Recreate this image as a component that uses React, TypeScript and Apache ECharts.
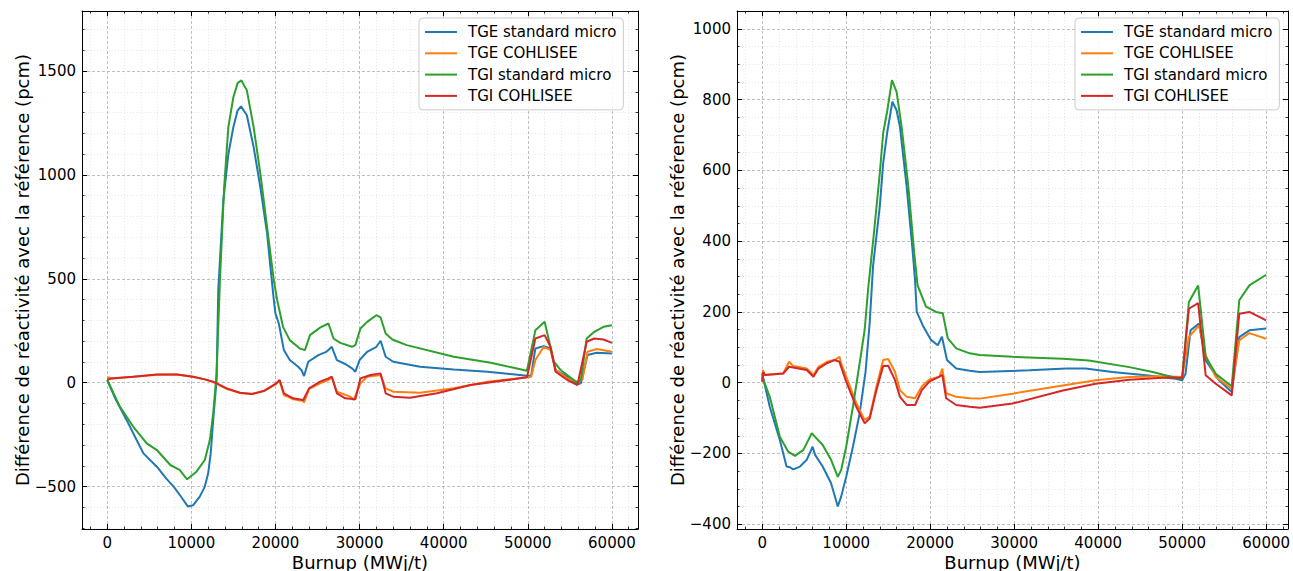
import React, { useEffect, useRef } from 'react';
import * as echarts from 'echarts';

const SERIES_NAMES = ['TGE standard micro', 'TGE COHLISEE', 'TGI standard micro', 'TGI COHLISEE'];
const COLORS = ['#1f77b4', '#ff7f0e', '#2ca02c', '#d62728'];
const X_TITLE = 'Burnup (MWj/t)';
const Y_TITLE = 'Différence de réactivité avec la référence (pcm)';

const X_MAJOR = [0, 10000, 20000, 30000, 40000, 50000, 60000];
const LEFT_Y_MAJOR = [-500, 0, 500, 1000, 1500];
const RIGHT_Y_MAJOR = [-400, -200, 0, 200, 400, 600, 800, 1000];

// Left panel
const L_TGE_STD = [[0,13],[1000,-80],[2300,-179],[3300,-260],[4300,-340],[5900,-404],[7000,-460],[7900,-500],[8800,-550],[9600,-596],[10200,-590],[11000,-548],[11600,-500],[12000,-436],[12300,-340],[12600,-179],[13000,13],[13200,446],[13800,878],[14400,1100],[15000,1231],[15500,1310],[15900,1330],[16600,1287],[17400,1135],[18200,942],[19000,720],[19400,558],[19800,400],[20000,333],[20400,285],[21000,157],[21700,109],[22700,77],[23100,60],[23400,32],[23900,101],[25100,133],[26100,150],[26700,173],[27300,109],[28300,90],[29100,69],[29500,53],[30000,109],[30900,149],[32000,173],[32500,202],[33100,125],[34000,101],[37200,77],[41200,64],[45200,53],[49900,34],[50400,35],[50900,165],[51900,176],[52700,165],[53300,61],[54700,29],[55900,-8],[56300,-3],[57100,133],[58200,144],[60000,141]];
const L_TGE_COH = [[0,26],[700,20],[3100,29],[5900,38],[8300,40],[10200,29],[11600,16],[12600,3],[14200,-30],[15800,-50],[17200,-54],[18600,-40],[20000,-8],[20500,10],[21000,-60],[21400,-66],[22100,-80],[23300,-88],[23400,-95],[24000,-30],[25300,-3],[26300,13],[26700,26],[27300,-43],[28900,-67],[29300,-83],[30100,-3],[30900,29],[32500,37],[33100,-27],[34000,-43],[37200,-48],[41200,-27],[45200,5],[49900,26],[50400,29],[50900,109],[51900,173],[52700,157],[53300,61],[54700,21],[55900,5],[56500,16],[57100,149],[58200,162],[60000,149]];
const L_TGI_STD = [[0,13],[1500,-115],[3100,-212],[4700,-292],[5900,-324],[7500,-396],[8600,-420],[9500,-465],[10600,-428],[11600,-372],[12200,-276],[12600,-147],[13000,45],[13400,494],[13900,942],[14400,1231],[15000,1375],[15500,1442],[15950,1455],[16600,1407],[17400,1231],[18200,1007],[19000,750],[19800,494],[20200,398],[20900,269],[21700,205],[22900,165],[23500,157],[24100,229],[25300,265],[26300,285],[26900,213],[27700,192],[29100,173],[29500,181],[30100,261],[30900,293],[32000,325],[32500,314],[33100,237],[33900,208],[35600,181],[41200,125],[45600,96],[49900,58],[50900,253],[52000,293],[53100,101],[53900,61],[55900,0],[56300,13],[57000,213],[57900,245],[59000,269],[60000,277]];
const L_TGI_COH = [[0,16],[700,21],[3100,29],[5900,40],[8300,40],[10200,29],[11600,16],[12600,5],[14200,-27],[15800,-48],[17200,-54],[18600,-40],[20000,-6],[20500,13],[21000,-51],[22100,-75],[23300,-83],[24000,-27],[25300,5],[26300,21],[26700,29],[27300,-51],[28300,-75],[29500,-80],[30100,21],[31300,37],[32500,45],[33100,-51],[34000,-67],[36000,-72],[39200,-51],[43200,-11],[49900,26],[50900,213],[52000,229],[52700,173],[53300,53],[54700,13],[55900,-11],[57000,197],[57900,213],[59000,208],[60000,192]];

// Right panel
const R_TGE_STD = [[0,26],[900,-68],[2100,-162],[2900,-237],[3300,-239],[3700,-245],[4500,-237],[5300,-218],[6000,-181],[6300,-204],[7200,-237],[8200,-284],[9000,-350],[9400,-322],[10000,-266],[10800,-181],[11600,-87],[12300,30],[12800,170],[13200,330],[14000,498],[14400,620],[14900,710],[15500,794],[16000,770],[16400,723],[17200,554],[17900,375],[18200,290],[18400,200],[19200,158],[20100,121],[20900,106],[21400,130],[22000,64],[23100,40],[24700,34],[25900,30],[31800,35],[36200,40],[38500,40],[41700,30],[45700,21],[49200,11],[50000,7],[50400,25],[51000,148],[52000,167],[52800,63],[54400,7],[55900,-26],[56800,129],[58000,148],[60000,153]];
const R_TGE_COH = [[0,3],[100,36],[300,22],[2500,26],[3200,59],[3700,47],[5300,40],[6100,22],[6700,45],[7700,59],[8600,64],[9200,73],[9400,55],[10000,17],[11200,-58],[12200,-105],[12800,-96],[13600,-11],[14400,64],[15000,67],[15800,31],[16400,-21],[17200,-40],[18200,-44],[19000,-11],[19900,9],[21100,17],[21450,40],[21900,-30],[23100,-40],[24700,-44],[25900,-45],[29800,-31],[35800,-8],[39700,7],[43700,16],[47700,18],[50000,16],[50800,129],[52000,162],[52800,77],[54000,16],[55900,-17],[56800,120],[58000,140],[60000,124]];
const R_TGI_STD = [[0,17],[900,-40],[2100,-153],[3100,-195],[3900,-207],[4900,-190],[5900,-143],[6300,-153],[7200,-176],[8200,-218],[9000,-266],[9400,-247],[10000,-181],[10800,-68],[11600,55],[12200,149],[12600,262],[13300,422],[14000,592],[14400,705],[14900,770],[15450,855],[16000,822],[16600,723],[17400,554],[18100,366],[18500,275],[19500,215],[20700,200],[21500,196],[22100,125],[23100,97],[24700,83],[25900,78],[29800,73],[35800,68],[38900,63],[43700,44],[46500,30],[48800,16],[50000,11],[50800,228],[51900,275],[52800,73],[54000,25],[55900,-10],[56800,233],[58000,275],[60000,305]];
const R_TGI_COH = [[0,3],[100,30],[300,22],[2500,26],[3200,45],[5300,36],[6100,17],[6700,40],[7700,55],[8600,64],[9200,59],[10000,3],[11200,-68],[12200,-115],[12800,-101],[13600,-21],[14400,47],[15000,48],[15800,8],[16400,-40],[17200,-63],[18200,-63],[19000,-21],[19900,3],[21100,17],[21450,22],[21900,-44],[23100,-63],[24700,-68],[25900,-71],[29800,-59],[35800,-22],[39700,-3],[43700,8],[47700,14],[50000,14],[50800,209],[51900,225],[52800,21],[54000,-3],[55900,-36],[56800,195],[58000,200],[60000,176]];

const LEFT_DATA = [L_TGE_STD, L_TGE_COH, L_TGI_STD, L_TGI_COH];
const RIGHT_DATA = [R_TGE_STD, R_TGE_COH, R_TGI_STD, R_TGI_COH];

const FONT = 'DejaVu Sans';

function minorValues(from: number, to: number, step: number, major: number) {
  const out: number[] = [];
  for (let v = from; v <= to + 1e-9; v += step) {
    if (Math.abs(v % major) > 1e-6) out.push(v);
  }
  return out;
}

const fmt = (v: number) => (v < 0 ? '\u2212' + Math.abs(v) : String(v));

function panelAxes(gridIndex: number, xr: number[], yr: number[], xMajor: number[], xMinor: number[], yMajor: number[], yMinor: number[]) {
  const frame = { show: true, onZero: false, lineStyle: { color: '#000', width: 1 } };
  const hidden = { show: false, onZero: false };
  const majorTick = (vals: number[]) => ({ show: true, inside: true, length: 5, customValues: vals, lineStyle: { color: '#000', width: 1 } });
  const minorTickS = (vals: number[]) => ({ show: true, inside: true, length: 2.5, customValues: vals, lineStyle: { color: '#000', width: 0.8 } });
  const majorGrid = { show: true, lineStyle: { type: [3, 2], color: '#b0b0b0', width: 0.8 } };
  const minorGrid = { show: true, lineStyle: { type: [1, 2], color: '#d8d8d8', width: 0.6 } };
  const noLabel = { show: false };
  const base = (min: number, max: number) => ({ type: 'value', gridIndex, min, max, minorTick: { show: false }, minorSplitLine: { show: false } });

  const xAxes = [
    {
      ...base(xr[0], xr[1]), position: 'bottom', axisLine: frame, axisTick: majorTick(xMajor),
      axisLabel: { show: true, customValues: xMajor, formatter: fmt, margin: 6, fontSize: 15, color: '#000', fontFamily: FONT },
      splitLine: majorGrid,
      name: X_TITLE, nameLocation: 'middle', nameGap: 24, nameMoveOverlap: false,
      nameTextStyle: { fontSize: 18, color: '#000', fontFamily: FONT },
    },
    { ...base(xr[0], xr[1]), position: 'bottom', axisLine: hidden, axisTick: minorTickS(xMinor), axisLabel: noLabel, splitLine: minorGrid },
    { ...base(xr[0], xr[1]), position: 'top', axisLine: frame, axisTick: majorTick(xMajor), axisLabel: noLabel, splitLine: { show: false } },
    { ...base(xr[0], xr[1]), position: 'top', axisLine: hidden, axisTick: minorTickS(xMinor), axisLabel: noLabel, splitLine: { show: false } },
  ];
  const yAxes = [
    {
      ...base(yr[0], yr[1]), position: 'left', axisLine: frame, axisTick: majorTick(yMajor),
      axisLabel: { show: true, customValues: yMajor, formatter: fmt, margin: 6, fontSize: 15, color: '#000', fontFamily: FONT },
      splitLine: majorGrid,
      name: Y_TITLE, nameLocation: 'middle', nameGap: 51, nameMoveOverlap: false,
      nameTextStyle: { fontSize: 18, color: '#000', fontFamily: FONT },
    },
    { ...base(yr[0], yr[1]), position: 'left', axisLine: hidden, axisTick: minorTickS(yMinor), axisLabel: noLabel, splitLine: minorGrid },
    { ...base(yr[0], yr[1]), position: 'right', axisLine: frame, axisTick: majorTick(yMajor), axisLabel: noLabel, splitLine: { show: false } },
    { ...base(yr[0], yr[1]), position: 'right', axisLine: hidden, axisTick: minorTickS(yMinor), axisLabel: noLabel, splitLine: { show: false } },
  ];
  return { xAxes, yAxes };
}

function legendAt(left: number) {
  return {
    show: true,
    orient: 'vertical',
    left,
    top: 18,
    data: SERIES_NAMES,
    icon: 'rect',
    itemWidth: 32,
    itemHeight: 2,
    itemGap: 6.3,
    padding: [6.5, 7, 6.5, 6],
    backgroundColor: 'rgba(255,255,255,0.85)',
    borderColor: '#cccccc',
    borderWidth: 1,
    borderRadius: 4,
    selectedMode: false,
    textStyle: { fontSize: 15, color: '#000', fontFamily: FONT, padding: [0, 0, 0, 6] },
  };
}

export default function App() {
  const ref = useRef<HTMLDivElement>(null);
  useEffect(() => {
    if (!ref.current) return;
    const chart = echarts.init(ref.current, null, { renderer: 'svg' });
    const xMinor = minorValues(-2000, 62000, 2000, 10000);
    const left = panelAxes(0, [-3000, 63100], [-704, 1789], X_MAJOR, xMinor, LEFT_Y_MAJOR, minorValues(-700, 1700, 100, 500));
    const right = panelAxes(1, [-3000, 62600], [-413.5, 1050.5], X_MAJOR, xMinor, RIGHT_Y_MAJOR, minorValues(-400, 1000, 50, 200));
    const series: any[] = [];
    LEFT_DATA.forEach((d, i) => {
      series.push({ name: SERIES_NAMES[i], type: 'line', data: d, xAxisIndex: 0, yAxisIndex: 0, symbol: 'none', showSymbol: false, lineStyle: { width: 2, color: COLORS[i] }, itemStyle: { color: COLORS[i] }, z: 3 + i });
    });
    RIGHT_DATA.forEach((d, i) => {
      series.push({ name: SERIES_NAMES[i], type: 'line', data: d, xAxisIndex: 4, yAxisIndex: 4, symbol: 'none', showSymbol: false, lineStyle: { width: 2, color: COLORS[i] }, itemStyle: { color: COLORS[i] }, z: 3 + i });
    });
    chart.setOption({
      animation: false,
      backgroundColor: '#ffffff',
      textStyle: { fontFamily: FONT },
      grid: [
        { left: 82, top: 11, width: 556, height: 518, outerBoundsMode: 'none', containLabel: false },
        { left: 737, top: 11, width: 551, height: 518, outerBoundsMode: 'none', containLabel: false },
      ],
      xAxis: [...left.xAxes, ...right.xAxes],
      yAxis: [...left.yAxes, ...right.yAxes],
      legend: [legendAt(419), legendAt(1075)],
      series,
    } as any);
    return () => chart.dispose();
  }, []);
  return <div ref={ref} style={{ position: 'absolute', left: 0, top: 0, width: 1293, height: 571 }} />;
}
